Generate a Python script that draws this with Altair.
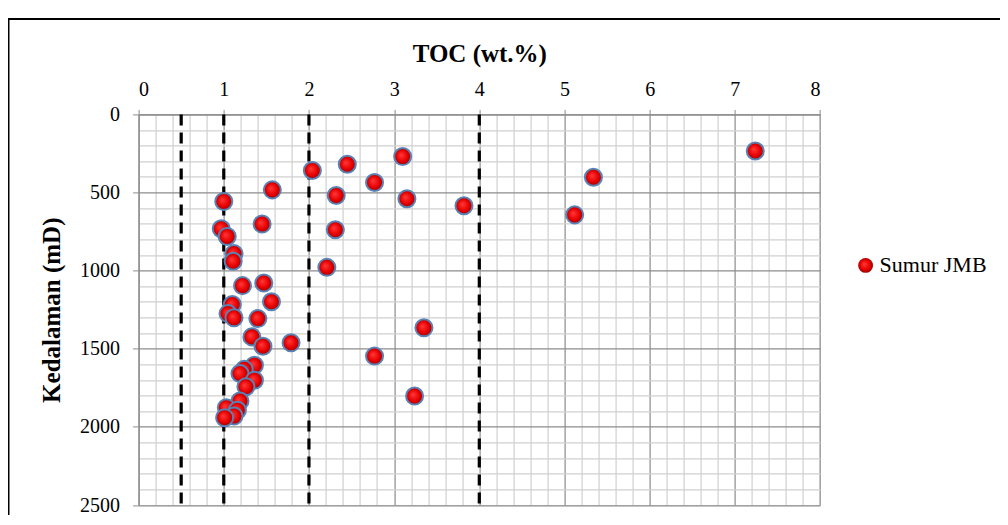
import altair as alt
import pandas as pd

# Data
toc = [7.24, 3.10, 2.45, 2.04, 5.34, 2.77, 1.57, 2.32, 3.15, 1.00, 3.82, 5.12,
       1.45, 0.97, 2.31, 1.04, 1.12, 1.11, 2.21, 1.47, 1.22, 1.56, 1.10, 1.05,
       1.12, 1.40, 3.35, 1.33, 1.79, 1.46, 2.77, 1.36, 1.24, 1.19, 1.36, 1.26,
       3.24, 1.19, 1.03, 1.16, 1.12, 1.01]
depth = [234, 270, 319, 359, 402, 436, 483, 519, 540, 557, 585, 643,
         702, 732, 738, 781, 891, 940, 979, 1079, 1096, 1199, 1217, 1275,
         1302, 1307, 1366, 1424, 1462, 1484, 1547, 1605, 1632, 1658, 1701, 1743,
         1803, 1835, 1877, 1894, 1931, 1941]
series_name = "Sumur JMB"

cutoffs = [0.5, 1, 2, 4]
cut_top = [0, 0, 0, 0]
cut_bottom = [2500, 2500, 2500, 2500]

x_ticks = [round(i * 0.2, 1) for i in range(41)]
y_ticks = [i * 100 for i in range(26)]

pts = pd.DataFrame({"toc": toc, "depth": depth, "series": [series_name] * len(toc)})
cuts = pd.DataFrame({"toc": cutoffs, "depth": cut_top, "depth2": cut_bottom})
frame = pd.DataFrame({"k": [0]})

FONT = "Liberation Serif"
MAJOR = "#8c8c8c"
MINOR = "#d0d0d0"

x_axis = alt.Axis(
    orient="top", values=x_ticks, title="TOC (wt.%)",
    labelExpr="datum.value % 1 === 0 ? format(datum.value, 'd') : ''",
    labelOverlap=False, labelFontSize=20, labelPadding=10, labelFont=FONT, labelColor="black",
    titleFontSize=25, titleFont=FONT, titleFontWeight="bold", titleColor="black", titlePadding=13,
    tickSize=5, tickColor=MAJOR,
    tickOpacity={"condition": {"test": "datum.value % 1 === 0", "value": 1}, "value": 0},
    domainColor=MAJOR, domainWidth=1.2,
    grid=True, gridWidth=1.2,
    gridColor={"condition": {"test": "datum.value % 1 === 0", "value": MAJOR}, "value": MINOR},
)
y_axis = alt.Axis(
    orient="left", values=y_ticks, title="Kedalaman (mD)",
    labelExpr="datum.value % 500 === 0 ? format(datum.value, 'd') : ''",
    labelOverlap=False, labelFontSize=20, labelPadding=13, labelFont=FONT, labelColor="black",
    titleFontSize=25, titleFont=FONT, titleFontWeight="bold", titleColor="black", titlePadding=15,
    tickSize=6, tickColor=MAJOR,
    tickOpacity={"condition": {"test": "datum.value % 500 === 0", "value": 1}, "value": 0},
    domainColor=MAJOR, domainWidth=1.2,
    grid=True, gridWidth=1.2,
    gridColor={"condition": {"test": "datum.value % 500 === 0", "value": MAJOR}, "value": MINOR},
)
x_enc = alt.X("toc:Q", scale=alt.Scale(domain=[0, 8], nice=False, zero=False), axis=x_axis)
y_enc = alt.Y("depth:Q", scale=alt.Scale(domain=[0, 2500], nice=False, reverse=True), axis=y_axis)

PL, PT, W, H = 130.6, 106.4, 681.4, 390.6

border = alt.Chart(frame).mark_rect(
    fillOpacity=0, stroke="black", strokeWidth=2
).encode(
    x=alt.value(-PL + 0.5), x2=alt.value(1003 - 138.6),
    y=alt.value(-PT + 11), y2=alt.value(540 - 114.4),
)

rules = alt.Chart(cuts).mark_rule(
    color="black", strokeWidth=3.2, strokeDash=[11, 7]
).encode(x=x_enc, y=y_enc, y2="depth2:Q")

gradient = {
    "gradient": "radial",
    "x1": 0.4, "y1": 0.4, "r1": 0,
    "x2": 0.5, "y2": 0.5, "r2": 0.55,
    "stops": [
        {"offset": 0, "color": "#ff3a3a"},
        {"offset": 0.6, "color": "#e80000"},
        {"offset": 1, "color": "#8a0000"},
    ],
}

points = alt.Chart(pts).mark_point(
    filled=True, fill=gradient, stroke="#5a82b4", strokeWidth=2, size=290, opacity=1
).encode(
    x=x_enc, y=y_enc,
    shape=alt.Shape(
        "series:N", scale=alt.Scale(range=["circle"]),
        legend=alt.Legend(
            title=None, orient="none", legendX=716, legendY=140, padding=0,
            symbolFillColor="#e00000", symbolStrokeColor="#5a82b4", symbolStrokeWidth=1.8,
            symbolSize=220, symbolOpacity=1, labelFont=FONT, labelFontSize=22,
            labelColor="black", labelOffset=3,
        ),
    ),
)

chart = alt.layer(border, rules, points).properties(
    width=W, height=H,
    autosize=alt.AutoSizeParams(type="none"),
    padding={"left": PL, "top": PT, "right": 180, "bottom": 10},
).configure_view(stroke=MAJOR, strokeWidth=1.2).configure(background="white", font=FONT)

chart.save("out.html", embed_options={"renderer": "svg", "actions": False})
